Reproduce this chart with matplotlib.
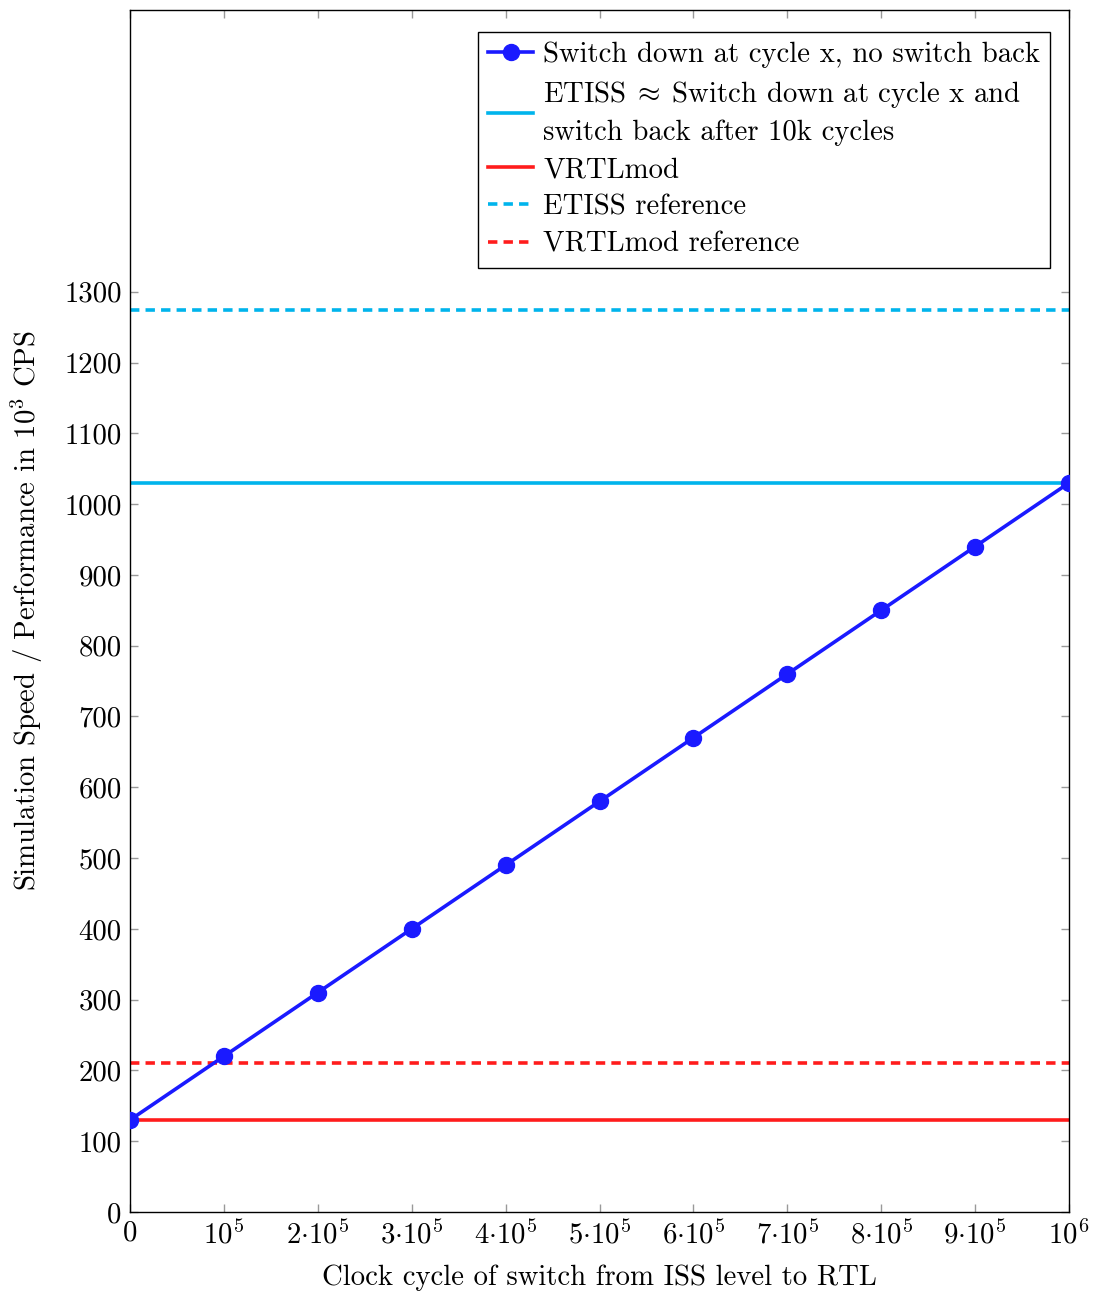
import numpy as np
import matplotlib.pyplot as plt

# switch-down cycle vs. simulation speed (10^3 CPS)
cycles = [0, 1e5, 2e5, 3e5, 4e5, 5e5, 6e5, 7e5, 8e5, 9e5, 1e6]
speed = [130, 220, 310, 400, 490, 580, 670, 760, 850, 940, 1030]
etiss = 1030
vrtlmod = 130
etiss_ref = 1274
vrtlmod_ref = 211

xtick_vals = cycles
xtick_labels = ['$0$', '$10^5$'] + ['$%d{\\cdot}10^5$' % i for i in range(2, 10)] + ['$10^6$']
ytick_vals = list(range(0, 1301, 100))

plt.rcParams['font.family'] = 'serif'
plt.rcParams['font.serif'] = ['cmr10', 'DejaVu Serif']
plt.rcParams['mathtext.fontset'] = 'cm'
plt.rcParams['axes.unicode_minus'] = False
plt.rcParams['font.size'] = 20.7

blue = '#1a1aff'
cyan = '#00b4ec'
red = '#ff1c1c'

fig = plt.figure(figsize=(10.96, 12.96), dpi=100)
ax = fig.add_axes([130/1096, 84/1296, 939/1096, 1202/1296])

ax.plot(cycles, speed, color=blue, lw=2.6, marker='o', ms=11.5,
        label='Switch down at cycle x, no switch back', zorder=5)
ax.axhline(etiss, color=cyan, lw=2.6,
           label='ETISS$\\;\\approx\\;$Switch down at cycle x and\nswitch back after 10k cycles')
ax.axhline(vrtlmod, color=red, lw=2.6, label='VRTLmod')
ax.axhline(etiss_ref, color=cyan, lw=2.6, ls=(0, (2.6, 1.7)), label='ETISS reference')
ax.axhline(vrtlmod_ref, color=red, lw=2.6, ls=(0, (2.6, 1.7)), label='VRTLmod reference')

ax.set_xlim(0, 1e6)
ax.set_ylim(0, 1698)
ax.set_xticks(xtick_vals)
ax.set_xticklabels(xtick_labels)
ax.set_yticks(ytick_vals)
ax.tick_params(direction='in', length=6, color='#999999', width=1,
               top=True, right=True, pad=6)
for s in ax.spines.values():
    s.set_linewidth(1)

ax.set_xlabel('Clock cycle of switch from ISS level to RTL', labelpad=11)
ax.set_ylabel('Simulation Speed / Performance in $10^3$ CPS', labelpad=14)

leg = ax.legend(loc='upper right', bbox_to_anchor=(0.98, 0.982), fancybox=False,
                edgecolor='black', framealpha=1, handlelength=1.55, handletextpad=0.35,
                labelspacing=0.38, borderpad=0.35, borderaxespad=0)
leg.get_frame().set_linewidth(1)
for t in leg.get_texts():
    t.set_linespacing(1.45)

fig.savefig('out.png', dpi=100)
